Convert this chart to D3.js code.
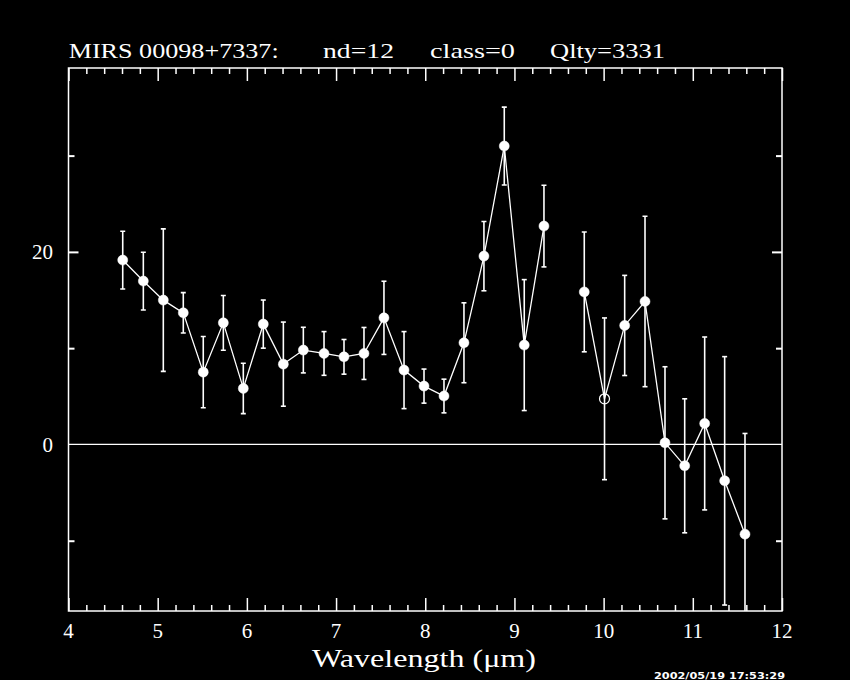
<!DOCTYPE html>
<html><head><meta charset="utf-8">
<script src="https://cdn.jsdelivr.net/npm/d3@7"></script>
<style>html,body{margin:0;padding:0;background:#000;overflow:hidden}</style>
</head><body>
<svg id="chart" width="850" height="680"></svg>
<script>
// ---- data ----
const wavelengths = [4.608, 4.839, 5.063, 5.287, 5.511, 5.736, 5.960, 6.184, 6.409, 6.633, 6.865, 7.089, 7.313, 7.537, 7.762, 7.986, 8.210, 8.434, 8.658, 8.886, 9.110, 9.331, 9.557, 9.783, 10.010, 10.236, 10.464, 10.688, 10.909, 11.133, 11.357, 11.585];
const flux = [19.15, 16.97, 14.99, 13.67, 7.51, 12.63, 5.82, 12.5, 8.34, 9.80, 9.45, 9.1, 9.45, 13.15, 7.72, 6.06, 5.03, 10.56, 19.56, 30.99, 10.32, 22.68, null, 15.84, 4.74, 12.36, 14.85, 0.17, -2.22, 2.18, -3.78, -9.32];
const fluxErr = [3.0, 3.0, 7.4, 2.1, 3.7, 2.84, 2.62, 2.5, 4.37, 2.37, 2.27, 1.8, 2.7, 3.8, 4.0, 1.77, 1.75, 4.15, 3.6, 4.05, 6.8, 4.24, null, 6.22, 8.4, 5.2, 8.85, 7.9, 6.96, 8.98, 12.9, 10.46];
const markerType = ["filled","filled","filled","filled","filled","filled","filled","filled","filled","filled","filled","filled","filled","filled","filled","filled","filled","filled","filled","filled","filled","filled",null,"filled","open","filled","filled","filled","filled","filled","filled","filled"];
const xMajorTicks = [4, 5, 6, 7, 8, 9, 10, 11, 12];
const yLabelTicks = [0, 20];
const yMinorTicks = [-10, 10, 30];
const titleParts = ["MIRS 00098+7337:", "nd=12", "class=0", "Qlty=3331"];
const xLabel = "Wavelength (\u03bcm)";
const timestamp = "2002/05/19 17:53:29";

// ---- layout ----
const L = 68.5, R = 782, T = 68, B = 611;
const svg = d3.select("#chart");
const font = "'Liberation Serif','DejaVu Serif',serif";
const x = d3.scaleLinear().domain([4, 12]).range([L, R]);
const y = d3.scaleLinear().domain([-17.3, 39.1]).range([B, T]);

const pts = wavelengths.map((w, i) => ({w, f: flux[i], e: fluxErr[i], m: markerType[i]}));
const valid = pts.filter(d => d.f !== null);

svg.append("defs").append("clipPath").attr("id", "clip")
  .append("rect").attr("x", L).attr("y", T).attr("width", R - L).attr("height", B - T);

// zero line
svg.append("line").attr("x1", L).attr("x2", R).attr("y1", y(0)).attr("y2", y(0))
  .attr("stroke", "#fff").attr("stroke-width", 1.2);

// axes: ticks inside frame
const xMinor = d3.range(4, 12.001, 0.2).map(v => +v.toFixed(1)).filter(v => !xMajorTicks.includes(v));
function drawXAxis(pos, isBottom) {
  const axisFn = isBottom ? d3.axisBottom(x) : d3.axisTop(x);
  const gMaj = svg.append("g").attr("transform", `translate(0,${pos})`)
    .call(axisFn.tickValues(xMajorTicks).tickSizeInner(-13).tickSizeOuter(0).tickFormat(""));
  const axisFn2 = isBottom ? d3.axisBottom(x) : d3.axisTop(x);
  const gMin = svg.append("g").attr("transform", `translate(0,${pos})`)
    .call(axisFn2.tickValues(xMinor).tickSizeInner(-6).tickSizeOuter(0).tickFormat(""));
  [gMaj, gMin].forEach(g => { g.select(".domain").remove(); g.selectAll("line").attr("stroke", "#fff").attr("stroke-width", 1.5); });
}
drawXAxis(B, true);
drawXAxis(T, false);

function drawYAxis(pos, isLeft) {
  const a1 = isLeft ? d3.axisLeft(y) : d3.axisRight(y);
  const g1 = svg.append("g").attr("transform", `translate(${pos},0)`)
    .call(a1.tickValues(yLabelTicks.filter(v => v !== 0)).tickSizeInner(-10).tickSizeOuter(0).tickFormat(""));
  const a2 = isLeft ? d3.axisLeft(y) : d3.axisRight(y);
  const g2 = svg.append("g").attr("transform", `translate(${pos},0)`)
    .call(a2.tickValues(yMinorTicks).tickSizeInner(-6).tickSizeOuter(0).tickFormat(""));
  [g1, g2].forEach(g => { g.select(".domain").remove(); g.selectAll("line").attr("stroke", "#fff").attr("stroke-width", 2); });
}
drawYAxis(L, true);
drawYAxis(R, false);

// frame
svg.append("rect").attr("x", L).attr("y", T).attr("width", R - L).attr("height", B - T)
  .attr("fill", "none").attr("stroke", "#fff").attr("stroke-width", 1.5);

// tick labels
svg.append("g").selectAll("text").data(xMajorTicks).join("text")
  .attr("x", d => x(d)).attr("y", 638).attr("text-anchor", "middle")
  .attr("font-family", font).attr("font-size", 21).attr("fill", "#fff").text(d => d);
svg.append("g").selectAll("text").data(yLabelTicks).join("text")
  .attr("x", 53).attr("y", d => y(d)).attr("dy", "0.35em").attr("text-anchor", "end")
  .attr("font-family", font).attr("font-size", 21).attr("fill", "#fff").text(d => d);

// data layer
const gData = svg.append("g").attr("clip-path", "url(#clip)");
const line = d3.line().defined(d => d.f !== null).x(d => x(d.w)).y(d => y(d.f));
gData.append("path").datum(pts).attr("d", line)
  .attr("fill", "none").attr("stroke", "#fff").attr("stroke-width", 1.3);

const eb = gData.append("g").attr("stroke", "#fff").attr("stroke-width", 1.6);
eb.selectAll("line.bar").data(valid).join("line").attr("class", "bar")
  .attr("x1", d => x(d.w)).attr("x2", d => x(d.w))
  .attr("y1", d => y(d.f + d.e)).attr("y2", d => y(d.f - d.e));
eb.selectAll("line.capt").data(valid).join("line").attr("class", "capt")
  .attr("x1", d => x(d.w) - 2.5).attr("x2", d => x(d.w) + 2.5)
  .attr("y1", d => y(d.f + d.e)).attr("y2", d => y(d.f + d.e));
eb.selectAll("line.capb").data(valid).join("line").attr("class", "capb")
  .attr("x1", d => x(d.w) - 2.5).attr("x2", d => x(d.w) + 2.5)
  .attr("y1", d => y(d.f - d.e)).attr("y2", d => y(d.f - d.e));

gData.selectAll("circle").data(valid).join("circle")
  .attr("cx", d => x(d.w)).attr("cy", d => y(d.f)).attr("r", 5)
  .attr("fill", d => d.m === "open" ? "#000" : "#fff")
  .attr("fill-opacity", d => d.m === "open" ? 0 : 1)
  .attr("stroke", "#fff").attr("stroke-width", d => d.m === "open" ? 1.2 : 0.5);

// title
const titlePos = [[68.7, 210], [323, 71], [430, 85], [550, 115]];
svg.append("g").selectAll("text").data(titleParts).join("text")
  .attr("x", (d, i) => titlePos[i][0]).attr("y", 58)
  .attr("textLength", (d, i) => titlePos[i][1]).attr("lengthAdjust", "spacingAndGlyphs")
  .attr("font-family", font).attr("font-size", 22).attr("fill", "#fff").text(d => d);

// x label
svg.append("text").attr("x", 312).attr("y", 667).attr("textLength", 224).attr("lengthAdjust", "spacingAndGlyphs")
  .attr("font-family", font).attr("font-size", 26).attr("fill", "#fff").text(xLabel);

// timestamp (kept fully inside the canvas)
svg.append("text").attr("x", 654).attr("y", 679).attr("textLength", 131).attr("lengthAdjust", "spacingAndGlyphs")
  .attr("font-family", "'DejaVu Sans',sans-serif").attr("font-weight", "bold").attr("font-size", 8).attr("fill", "#fff").text(timestamp);
</script>
</body></html>
